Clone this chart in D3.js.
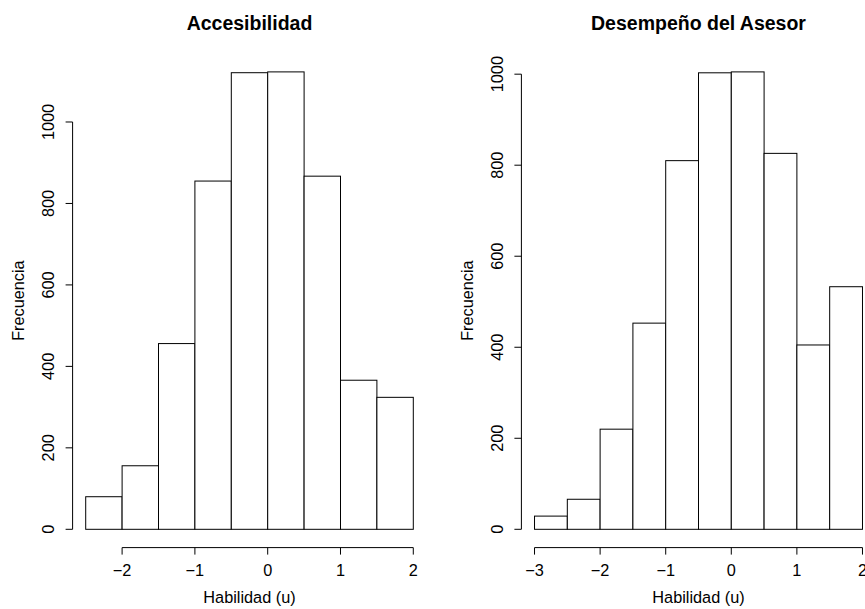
<!DOCTYPE html>
<html>
<head>
<meta charset="utf-8">
<script src="https://cdn.jsdelivr.net/npm/d3@7"></script>
<style>
  html, body { margin: 0; padding: 0; background: #fff; }
  svg { display: block; font-family: "Liberation Sans", Arial, Helvetica, sans-serif; }
</style>
</head>
<body>
<svg id="chart" width="865" height="609"></svg>
<script>
// Histogram bins (lower edges of 0.5-wide classes) and counts for each panel
const accBreaks = [-2.5, -2.0, -1.5, -1.0, -0.5, 0.0, 0.5, 1.0, 1.5, 2.0];
const accCounts = [80, 156, 456, 855, 1121, 1123, 867, 366, 324];

const desBreaks = [-3.0, -2.5, -2.0, -1.5, -1.0, -0.5, 0.0, 0.5, 1.0, 1.5, 2.0];
const desCounts = [29, 66, 220, 453, 810, 1003, 1005, 826, 405, 533];

const titles = ["Accesibilidad", "Desempeño del Asesor"];
const xLabel = "Habilidad (u)";
const yLabel = "Frecuencia";
const yTicks = [0, 200, 400, 600, 800, 1000];
const accXTicks = [-2, -1, 0, 1, 2];
const desXTicks = [-3, -2, -1, 0, 1, 2];

const svg = d3.select("#chart");
const fmt = v => (v < 0 ? "\u2212" + Math.abs(v) : String(v));

function panel(opts) {
  const { breaks, counts, title, xTicks, left, right, titleX } = opts;
  const top = 53.6, bottom = 547.6;
  const xmin = breaks[0], xmax = breaks[breaks.length - 1];
  const padX = 0.04 * (xmax - xmin);
  const ymax = d3.max(counts);
  const x = d3.scaleLinear().domain([xmin - padX, xmax + padX]).range([left, right]);
  const y = d3.scaleLinear().domain([-0.04 * ymax, ymax * 1.04]).range([bottom, top]);

  const g = svg.append("g");

  // bars
  const bins = counts.map((c, i) => ({ x0: breaks[i], x1: breaks[i + 1], n: c }));
  g.selectAll("rect.bar").data(bins).enter().append("rect")
    .attr("class", "bar")
    .attr("x", d => x(d.x0))
    .attr("y", d => y(d.n))
    .attr("width", d => x(d.x1) - x(d.x0))
    .attr("height", d => y(0) - y(d.n))
    .attr("fill", "#fff")
    .attr("stroke", "#000")
    .attr("stroke-width", 1);

  // x axis
  const xa = g.append("g").attr("transform", `translate(0,${bottom})`);
  xa.append("line")
    .attr("x1", x(xTicks[0])).attr("x2", x(xTicks[xTicks.length - 1]))
    .attr("y1", 0).attr("y2", 0).attr("stroke", "#000");
  xa.selectAll("line.tick").data(xTicks).enter().append("line")
    .attr("class", "tick")
    .attr("x1", d => x(d)).attr("x2", d => x(d))
    .attr("y1", 0).attr("y2", 7).attr("stroke", "#000");
  xa.selectAll("text").data(xTicks).enter().append("text")
    .attr("x", d => x(d)).attr("y", 28.5)
    .attr("text-anchor", "middle")
    .attr("font-size", "16.3px")
    .text(fmt);

  // y axis
  const ya = g.append("g").attr("transform", `translate(${left},0)`);
  ya.append("line")
    .attr("x1", 0).attr("x2", 0)
    .attr("y1", y(yTicks[0])).attr("y2", y(yTicks[yTicks.length - 1]))
    .attr("stroke", "#000");
  ya.selectAll("line.tick").data(yTicks).enter().append("line")
    .attr("class", "tick")
    .attr("x1", 0).attr("x2", -7)
    .attr("y1", d => y(d)).attr("y2", d => y(d)).attr("stroke", "#000");
  ya.selectAll("text").data(yTicks).enter().append("text")
    .attr("transform", d => `translate(-18.6,${y(d)}) rotate(-90)`)
    .attr("text-anchor", "middle")
    .attr("font-size", "16.3px")
    .text(d => d);

  // titles
  const cx = (left + right) / 2;
  g.append("text")
    .attr("x", titleX).attr("y", 30)
    .attr("text-anchor", "middle")
    .attr("font-size", "19.5px")
    .attr("font-weight", "bold")
    .text(title);
  g.append("text")
    .attr("x", cx).attr("y", 603)
    .attr("text-anchor", "middle")
    .attr("font-size", "16.3px")
    .text(xLabel);
  g.append("text")
    .attr("transform", `translate(${left - 48.6},${(top + bottom) / 2}) rotate(-90)`)
    .attr("text-anchor", "middle")
    .attr("font-size", "16.3px")
    .text(yLabel);
}

panel({ breaks: accBreaks, counts: accCounts, title: titles[0], xTicks: accXTicks,
        left: 72.6, right: 426.4, titleX: 249.5 });
panel({ breaks: desBreaks, counts: desCounts, title: titles[1], xTicks: desXTicks,
        left: 521.4, right: 875.6, titleX: 698.5 });
</script>
</body>
</html>
